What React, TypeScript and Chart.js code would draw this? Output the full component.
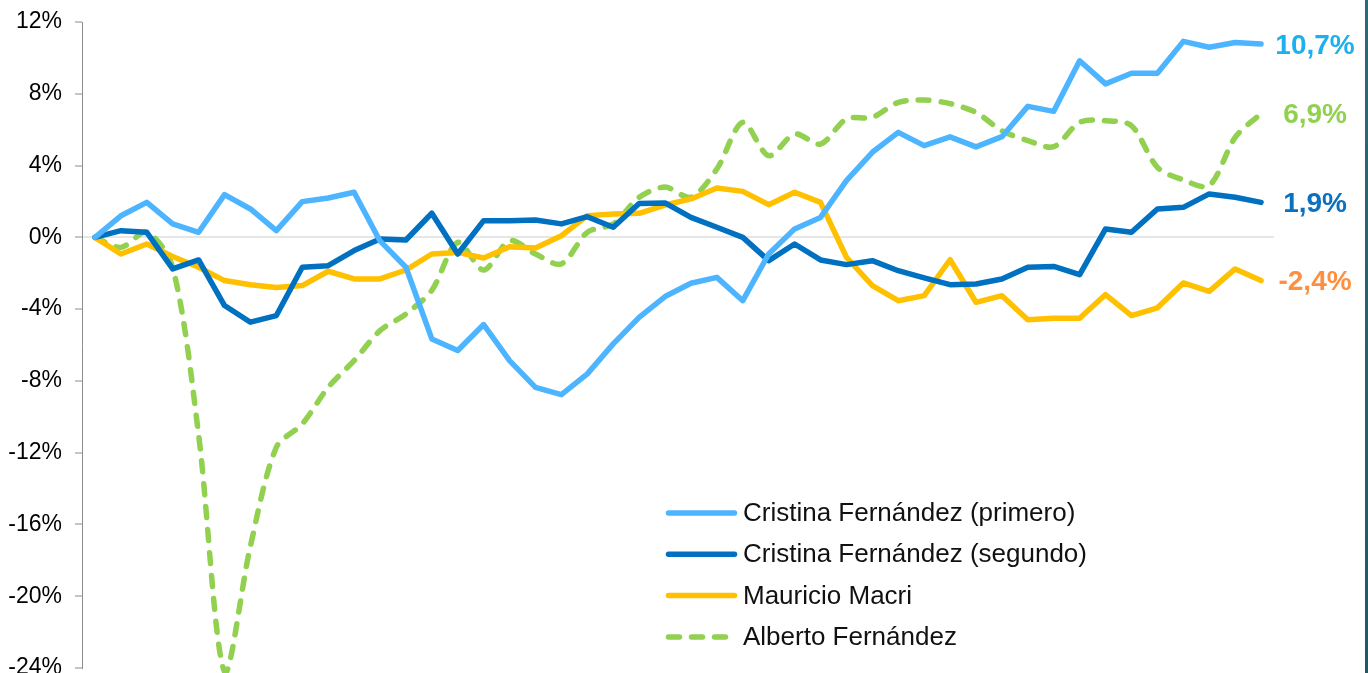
import React, { useEffect, useRef } from 'react';
import { Chart, registerables } from 'chart.js';

Chart.register(...registerables);

// Months since start of each presidency (x axis has no labels in the original)
const months = [
  0, 1, 2, 3, 4, 5, 6, 7, 8, 9, 10, 11, 12, 13, 14, 15, 16, 17, 18, 19, 20, 21, 22,
  23, 24, 25, 26, 27, 28, 29, 30, 31, 32, 33, 34, 35, 36, 37, 38, 39, 40, 41, 42, 43, 44, 45,
];

const seriesNames = [
  'Cristina Fernández (primero)',
  'Cristina Fernández (segundo)',
  'Mauricio Macri',
  'Alberto Fernández',
];

const cfkFirst = [
  0, 1.2, 1.95, 0.75, 0.28, 2.38, 1.58, 0.37, 1.99, 2.19, 2.51, -0.2, -1.67, -5.66, -6.31,
  -4.86, -6.87, -8.36, -8.76, -7.61, -5.94, -4.46, -3.3, -2.56, -2.23, -3.53, -0.93, 0.47,
  1.11, 3.16, 4.74, 5.85, 5.11, 5.6, 5.04, 5.61, 7.3, 7.02, 9.84, 8.55, 9.14, 9.14, 10.92,
  10.59, 10.86, 10.77,
];

const cfkSecond = [
  0, 0.37, 0.28, -1.76, -1.26, -3.8, -4.73, -4.36, -1.67, -1.58, -0.74, -0.09, -0.15, 1.34,
  -0.93, 0.93, 0.93, 0.97, 0.75, 1.15, 0.56, 1.89, 1.92, 1.11, 0.56, 0, -1.3, -0.37, -1.26,
  -1.52, -1.3, -1.86, -2.26, -2.64, -2.6, -2.32, -1.67, -1.62, -2.08, 0.47, 0.28, 1.58, 1.67,
  2.42, 2.23, 1.95,
];

const macri = [
  0, -0.93, -0.37, -1.07, -1.67, -2.41, -2.64, -2.79, -2.69, -1.89, -2.32, -2.32, -1.82, -0.93,
  -0.84, -1.15, -0.52, -0.59, 0.09, 1.21, 1.3, 1.34, 1.8, 2.14, 2.75, 2.56, 1.82, 2.51, 1.95,
  -1.11, -2.69, -3.53, -3.25, -1.25, -3.62, -3.25, -4.59, -4.51, -4.51, -3.19, -4.36, -3.93,
  -2.54, -3.01, -1.76, -2.41,
];

const alberto = [
  0, -0.56, 0.28, -1.67, -11, -24.2, -17.2, -11.7, -10.4, -8.36, -6.87, -5.2, -4.27, -2.95,
  -0.28, -1.82, -0.18, -0.93, -1.48, 0.28, 0.75, 2.23, 2.8, 2.23, 3.81, 6.41, 4.55, 5.76, 5.2,
  6.6, 6.69, 7.52, 7.65, 7.45, 6.96, 5.94, 5.39, 5.05, 6.41, 6.5, 6.22, 3.9, 3.2, 2.88, 5.57,
  6.9,
];

const endLabels = ['10,7%', '1,9%', '-2,4%', '6,9%'];
const endLabelColors = ['#1cb0f0', '#0a70c0', '#ff8f40', '#92d050'];

const yTicks = [12, 8, 4, 0, -4, -8, -12, -16, -20, -24];

const FONT = '"Liberation Sans", Arial, Helvetica, sans-serif';

const overlayPlugin = {
  id: 'overlay',
  afterDatasetsDraw(chart: any) {
    const ctx = chart.ctx as CanvasRenderingContext2D;
    ctx.save();
    // end-of-line value labels
    chart.data.datasets.forEach((ds: any, i: number) => {
      const meta = chart.getDatasetMeta(i);
      const pt = meta.data[meta.data.length - 1];
      if (!pt) return;
      ctx.font = `bold 28px ${FONT}`;
      ctx.fillStyle = endLabelColors[i];
      ctx.textAlign = 'center';
      ctx.textBaseline = 'middle';
      ctx.fillText(endLabels[i], pt.x + 54, pt.y + 2);
    });
    // legend inside the plot area
    const area = chart.chartArea;
    const x0 = area.left + 586.5;
    const x1 = x0 + 66;
    const tx = x0 + 74.5;
    const y0 = area.top + 491;
    const step = 41.3;
    chart.data.datasets.forEach((ds: any, i: number) => {
      const y = y0 + i * step;
      ctx.beginPath();
      ctx.strokeStyle = ds.borderColor;
      ctx.lineWidth = ds.borderWidth;
      ctx.lineCap = 'round';
      ctx.setLineDash(ds.borderDash || []);
      ctx.moveTo(x0, y);
      ctx.lineTo(x1, y);
      ctx.stroke();
      ctx.setLineDash([]);
      ctx.font = `26px ${FONT}`;
      ctx.fillStyle = '#111';
      ctx.textAlign = 'left';
      ctx.textBaseline = 'middle';
      ctx.fillText(ds.label, tx, y + 1);
    });
    ctx.restore();
  },
};

export default function App() {
  const ref = useRef<HTMLCanvasElement>(null);

  useEffect(() => {
    if (!ref.current) return;
    const common = {
      borderWidth: 5.5,
      pointRadius: 0,
      pointHoverRadius: 0,
      borderJoinStyle: 'round' as const,
      borderCapStyle: 'round' as const,
      fill: false,
      clip: 12,
    };
    const chart = new Chart(ref.current, {
      type: 'line',
      data: {
        labels: months,
        datasets: [
          { ...common, label: seriesNames[0], data: cfkFirst, borderColor: '#4db4ff', tension: 0 },
          { ...common, label: seriesNames[1], data: cfkSecond, borderColor: '#0070c0', tension: 0 },
          { ...common, label: seriesNames[2], data: macri, borderColor: '#ffc000', tension: 0 },
          {
            ...common,
            label: seriesNames[3],
            data: alberto,
            borderColor: '#92d050',
            borderDash: [11, 12],
            tension: 0.3,
          },
        ],
      },
      options: {
        animation: false,
        responsive: true,
        maintainAspectRatio: false,
        events: [],
        layout: { padding: { top: 22, right: 94, bottom: 32, left: 0 } },
        plugins: {
          legend: { display: false },
          tooltip: { enabled: false },
        },
        scales: {
          x: {
            type: 'category',
            display: false,
            offset: true,
          },
          y: {
            min: -24,
            max: 12,
            afterFit: (s: any) => {
              s.width = 82;
              s.paddingTop = 0;
              s.paddingBottom = 0;
            },
            afterBuildTicks: (s: any) => {
              s.ticks = yTicks.map((v) => ({ value: v }));
            },
            ticks: {
              callback: (v: any) => `${v}%`,
              color: '#000',
              font: { family: FONT, size: 23 },
              padding: 13,
            },
            grid: {
              color: (c: any) => (c.tick && c.tick.value === 0 ? '#e6e6e6' : 'rgba(0,0,0,0)'),
              lineWidth: 2,
              tickColor: '#8c8c8c',
              tickWidth: 1,
              tickLength: 7,
              drawTicks: true,
            },
            border: { color: '#8c8c8c', width: 1 },
          },
        },
      },
      plugins: [overlayPlugin],
    });
    return () => chart.destroy();
  }, []);

  return (
    <div
      style={{
        position: 'fixed',
        left: 0,
        top: 0,
        width: 1368,
        height: 673,
        overflow: 'hidden',
        background: '#fff',
      }}
    >
      <div style={{ position: 'relative', width: 1368, height: 700 }}>
        <canvas ref={ref} />
      </div>
      <div
        style={{
          position: 'absolute',
          right: 0,
          top: 0,
          width: 3,
          height: 673,
          background: 'linear-gradient(#2b6a78, #1d5a68)',
        }}
      />
    </div>
  );
}
